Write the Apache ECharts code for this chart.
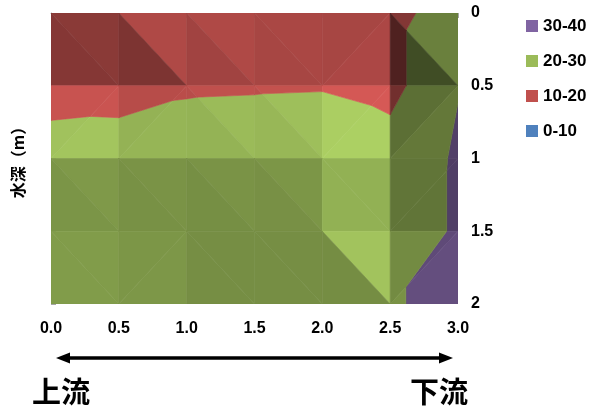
<!DOCTYPE html>
<html><head><meta charset="utf-8">
<script src="https://cdn.jsdelivr.net/npm/echarts@6/dist/echarts.min.js"></script>
<style>html,body{margin:0;padding:0;background:#fff}#c{width:590px;height:407px}</style>
</head><body><div id="c"></div>
<script>
// ---- data ----
const positions = [0, 0.5, 1.0, 1.5, 2.0, 2.5, 3.0];      // x: distance
const depths = [0, 0.5, 1.0, 1.5, 2.0];                   // y: water depth (m)
const valuesDepth00 = [19,   19.5, 17.5, 16.5, 16.5, 17,   24.9];
const valuesDepth05 = [15,   16,   18.7, 19,   19.3, 17,   29.7];
const valuesDepth10 = [25.5, 25.1, 25.9, 27,   28,   24.5, 31];
const valuesDepth15 = [24.5, 24.5, 25.5, 27,   28.5, 25,   31];
const valuesDepth20 = [25,   25,   25,   26.5, 28,   29.7, 31];
const bandNames = ['30-40', '20-30', '10-20', '0-10'];
const bandLow  = [30, 20, 10, 0];
const bandHigh = [40, 30, 20, 10];
const bandColors = ['#8064A2', '#9BBB59', '#C0504D', '#4F81BD'];
const xTickLabels = ['0.0', '0.5', '1.0', '1.5', '2.0', '2.5', '3.0'];
const yTickLabels = ['0', '0.5', '1', '1.5', '2'];

const grid = [valuesDepth00, valuesDepth05, valuesDepth10, valuesDepth15, valuesDepth20];

// ---- contour bands by triangles (clip each facet to band range) ----
function clipHalf(poly, f) {
  const out = [];
  for (let i = 0; i < poly.length; i++) {
    const a = poly[i], b = poly[(i + 1) % poly.length];
    const fa = f(a), fb = f(b);
    if (fa >= 0) out.push(a);
    if ((fa >= 0) !== (fb >= 0)) {
      const t = fa / (fa - fb);
      out.push([a[0] + t * (b[0] - a[0]), a[1] + t * (b[1] - a[1]), a[2] + t * (b[2] - a[2])]);
    }
  }
  return out;
}
function area(poly) {
  let s = 0;
  for (let i = 0; i < poly.length; i++) {
    const a = poly[i], b = poly[(i + 1) % poly.length];
    s += a[0] * b[1] - b[0] * a[1];
  }
  return Math.abs(s / 2);
}
function shadeColor(hex, f) {
  const n = parseInt(hex.slice(1), 16);
  const r = Math.min(255, Math.round(((n >> 16) & 255) * f));
  const g = Math.min(255, Math.round(((n >> 8) & 255) * f));
  const b = Math.min(255, Math.round((n & 255) * f));
  return 'rgb(' + r + ',' + g + ',' + b + ')';
}
const bandPieces = bandNames.map(() => []);
for (let r = 0; r < depths.length - 1; r++) {
  for (let c = 0; c < positions.length - 1; c++) {
    const TL = [positions[c], depths[r], grid[r][c]];
    const TR = [positions[c + 1], depths[r], grid[r][c + 1]];
    const BL = [positions[c], depths[r + 1], grid[r + 1][c]];
    const BR = [positions[c + 1], depths[r + 1], grid[r + 1][c + 1]];
    const tris = (TL[2] + BR[2] >= BL[2] + TR[2])
      ? [[TL, TR, BR], [TL, BR, BL]]
      : [[TL, TR, BL], [TR, BR, BL]];
    tris.forEach(tri => {
      const [p0, p1, p2] = tri;
      const dx1 = p1[0] - p0[0], dd1 = p1[1] - p0[1], dv1 = p1[2] - p0[2];
      const dx2 = p2[0] - p0[0], dd2 = p2[1] - p0[1], dv2 = p2[2] - p0[2];
      const det = dx1 * dd2 - dx2 * dd1;
      const gx = (dv1 * dd2 - dv2 * dd1) / det;
      const gd = (dx1 * dv2 - dx2 * dv1) / det;
      const light = Math.max(0.3, Math.min(1.35, 0.82 - 0.016 * gx + 0.012 * gd));
      for (let k = 0; k < bandNames.length; k++) {
        let poly = clipHalf(tri, p => p[2] - bandLow[k]);
        if (poly.length < 3) continue;
        poly = clipHalf(poly, p => bandHigh[k] - p[2]);
        if (poly.length < 3 || area(poly) < 1e-6) continue;
        let cx = 0, cy = 0;
        poly.forEach(p => { cx += p[0]; cy += p[1]; });
        bandPieces[k].push({ poly: poly, cx: cx / poly.length, cy: cy / poly.length, color: shadeColor(bandColors[k], light) });
      }
    });
  }
}

const series = bandNames.map((name, k) => ({
  name: name,
  type: 'custom',
  coordinateSystem: 'cartesian2d',
  clip: true,
  itemStyle: { color: bandColors[k] },
  data: bandPieces[k].map((p, i) => [p.cx, p.cy, i]),
  renderItem: function (params, api) {
    const p = bandPieces[k][api.value(2)];
    const pts = p.poly.map(q => api.coord([q[0], q[1]]));
    return {
      type: 'polygon',
      shape: { points: pts },
      style: { fill: p.color, stroke: p.color, lineWidth: 0.6 }
    };
  }
}));

const chart = echarts.init(document.getElementById('c'), null, { renderer: 'canvas' });
const labelFont = { fontFamily: 'Liberation Sans, Arial, sans-serif', fontWeight: 'bold', fontSize: 16, color: '#000' };
chart.setOption({
  animation: false,
  backgroundColor: '#fff',
  grid: { left: 51, right: 132, top: 13, bottom: 103, containLabel: false },
  legend: {
    orient: 'vertical', left: 526, top: 17.5, padding: 0,
    itemWidth: 12, itemHeight: 12, itemGap: 18, icon: 'rect',
    data: bandNames,
    textStyle: { fontFamily: 'Liberation Sans, Arial, sans-serif', fontWeight: 'bold', fontSize: 17, color: '#000', lineHeight: 17, padding: [0, 0, 0, 0] },
    selectedMode: false
  },
  xAxis: [{
    type: 'value', min: 0, max: 3, interval: 0.5, position: 'bottom',
    axisLine: { show: true, lineStyle: { color: '#a6a6a6', width: 1 } },
    axisTick: { show: true, length: 5, lineStyle: { color: '#a6a6a6' } },
    splitLine: { show: false },
    axisLabel: Object.assign({ margin: 17, formatter: v => xTickLabels[Math.round(v / 0.5)] }, labelFont)
  }, {
    type: 'value', min: 0, max: 3, position: 'top',
    axisLine: { show: true, onZero: false, lineStyle: { color: '#d9d9d9', width: 1 } },
    axisTick: { show: false }, axisLabel: { show: false }, splitLine: { show: false }
  }],
  yAxis: {
    type: 'value', min: 0, max: 2, interval: 0.5, inverse: true, position: 'right',
    axisLine: { show: true, lineStyle: { color: '#a6a6a6', width: 1 } },
    axisTick: { show: true, length: 5, lineStyle: { color: '#a6a6a6' } },
    splitLine: { show: false },
    axisLabel: Object.assign({ margin: 13, formatter: v => yTickLabels[Math.round(v / 0.5)] }, labelFont)
  },
  series: series
});

// annotations: y-axis title, upstream/downstream arrow and labels
const xLeft = chart.convertToPixel({ xAxisIndex: 0 }, 0);
const xRight = chart.convertToPixel({ xAxisIndex: 0 }, 3);
const yTop = chart.convertToPixel({ yAxisIndex: 0 }, 0);
const yBot = chart.convertToPixel({ yAxisIndex: 0 }, 2);
const arrowY = 358;
const tipL = xLeft + 5, tipR = xRight - 5, head = 14, hh = 5.5;
chart.setOption({
  graphic: [
    { type: 'text', x: 18, y: (yTop + yBot) / 2, rotation: Math.PI / 2,
      style: { text: '水深（m）', font: 'bold 16px "Noto Sans CJK JP"', fill: '#000',
               textAlign: 'center', textVerticalAlign: 'middle', align: 'center', verticalAlign: 'middle' } },
    { type: 'line', shape: { x1: tipL + head - 2, y1: arrowY, x2: tipR - head + 2, y2: arrowY },
      style: { stroke: '#000', lineWidth: 3.5 } },
    { type: 'polygon', shape: { points: [[tipL, arrowY], [tipL + head, arrowY - hh], [tipL + head, arrowY + hh]] },
      style: { fill: '#000' } },
    { type: 'polygon', shape: { points: [[tipR, arrowY], [tipR - head, arrowY - hh], [tipR - head, arrowY + hh]] },
      style: { fill: '#000' } },
    { type: 'text', x: 61, y: 392,
      style: { text: '上流', font: 'bold 29px "Noto Sans CJK JP"', fill: '#000',
               textAlign: 'center', textVerticalAlign: 'middle', align: 'center', verticalAlign: 'middle' } },
    { type: 'text', x: 439, y: 392,
      style: { text: '下流', font: 'bold 29px "Noto Sans CJK JP"', fill: '#000',
               textAlign: 'center', textVerticalAlign: 'middle', align: 'center', verticalAlign: 'middle' } }
  ]
});
</script>
</body></html>
